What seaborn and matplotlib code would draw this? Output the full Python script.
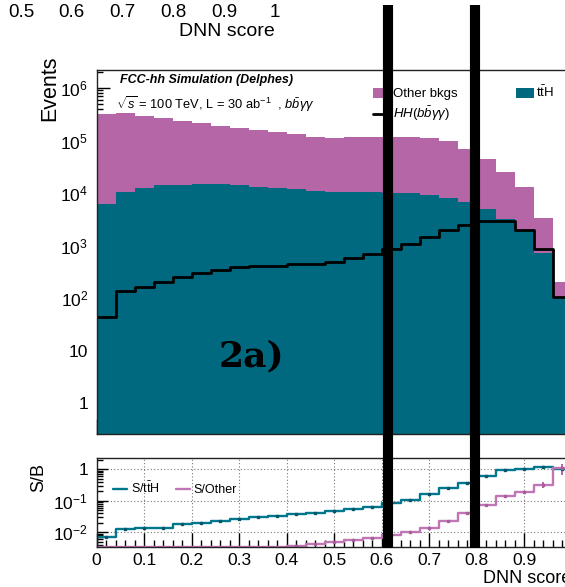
import numpy as np
import pandas as pd
import matplotlib
matplotlib.use("Agg")
import matplotlib.pyplot as plt
import seaborn as sns
from matplotlib.lines import Line2D
from matplotlib.patches import Patch
from matplotlib.ticker import LogLocator, MultipleLocator, FixedLocator, FuncFormatter, NullFormatter

# ---- data: DNN score histograms, 25 bins of width 0.04 ----
bin_edges = [round(0.04 * i, 2) for i in range(26)]

tth_events = [6200, 10700, 12400, 14400, 14000, 14800, 15200, 14400, 13300, 12500,
              11900, 11000, 10500, 10500, 10500, 10200, 10000, 9000, 8000, 6900,
              5000, 3200, 2000, 720, 107]
other_events = [314000, 329000, 278000, 256000, 226000, 200000, 175000, 159000, 142000, 131000,
                121000, 104000, 102000, 104500, 104500, 105000, 105000, 103000, 88000, 62000,
                40000, 21800, 10800, 2680, 100]
hh_events = [43, 138, 166, 200, 251, 296, 347, 389, 418, 418,
             444, 444, 485, 577, 680, 857, 1070, 1440, 2000, 2500,
             2960, 2960, 2000, 857, 107]

# relative uncertainties on the S/B ratios
rel_err_tth = [0.03] * 20 + [0.04, 0.05, 0.06, 0.08, 0.12]
rel_err_other = [0.03] * 18 + [0.04, 0.05, 0.06, 0.08, 0.12, 0.2, 0.4]

cut_marks = [0.613, 0.797]

TEAL = "#00687f"
MAGENTA = "#b466a6"
TEAL_LINE = "#00778c"
PINK_LINE = "#c075b5"

sns.set_theme(style="ticks")
plt.rcParams["font.family"] = ["Liberation Sans", "DejaVu Sans"]
plt.rcParams["mathtext.fontset"] = "custom"
plt.rcParams["mathtext.rm"] = "Liberation Sans"
plt.rcParams["mathtext.it"] = "Liberation Sans:italic"
plt.rcParams["mathtext.bf"] = "Liberation Sans:bold"
plt.rcParams["axes.linewidth"] = 1.0
plt.rcParams["axes.edgecolor"] = "#222222"
for key in ("text.color", "axes.labelcolor", "xtick.color", "ytick.color"):
    plt.rcParams[key] = "black"

edges = np.array(bin_edges)
centers = 0.5 * (edges[:-1] + edges[1:])
tth = np.array(tth_events, float)
other = np.array(other_events, float)
hh = np.array(hh_events, float)

W, H = 565, 587
fig = plt.figure(figsize=(W / 100, H / 100), dpi=100)


def fx(px):
    return px / W


def fy(py):
    return 1 - py / H


ax_left = 96.5
ax_right = 571.7
ax = fig.add_axes([fx(ax_left), fy(434), fx(ax_right - ax_left), fy(70) - fy(434)])
rax = fig.add_axes([fx(ax_left), fy(547), fx(ax_right - ax_left), fy(457.7) - fy(547)])

# ---- main panel: stacked backgrounds + signal line ----
stack_df = pd.DataFrame({
    "score": np.concatenate([centers, centers]),
    "events": np.concatenate([other, tth]),
    "process": ["Other bkgs"] * len(centers) + ["ttH"] * len(centers),
})
sns.histplot(data=stack_df, x="score", weights="events", hue="process",
             hue_order=["Other bkgs", "ttH"], palette={"Other bkgs": MAGENTA, "ttH": TEAL},
             multiple="stack", bins=bin_edges, element="step", fill=True,
             alpha=1.0, linewidth=0, legend=False, ax=ax)
hh_df = pd.DataFrame({"score": centers, "events": hh})
sns.histplot(data=hh_df, x="score", weights="events", bins=bin_edges, element="step", fill=False,
             color="black", linewidth=2.0, ax=ax)

ax.set_yscale("log")
ax.set_xlim(0, 1)
ax.set_ylim(0.26, 2.2e6)
ax.set_xlabel("")
ax.set_ylabel("")


def root_log_fmt(v, pos):
    e = int(round(np.log10(v)))
    if e == 0:
        return "1"
    if e == 1:
        return "10"
    return r"$\mathdefault{10^{%d}}$" % e


ax.yaxis.set_major_locator(LogLocator(base=10, numticks=20))
ax.yaxis.set_minor_locator(LogLocator(base=10, subs=np.arange(2, 10), numticks=20))
ax.yaxis.set_major_formatter(FuncFormatter(root_log_fmt))
ax.yaxis.set_minor_formatter(NullFormatter())
ax.xaxis.set_major_locator(MultipleLocator(0.1))
ax.xaxis.set_minor_locator(MultipleLocator(0.02))
ax.tick_params(axis="x", which="both", direction="in", labelbottom=False)
ax.tick_params(axis="x", which="major", length=11, width=1)
ax.tick_params(axis="x", which="minor", length=5.5, width=1)
ax.tick_params(axis="y", which="both", direction="in", labelsize=12.5, pad=6)
ax.tick_params(axis="y", which="major", length=9, width=1)
ax.tick_params(axis="y", which="minor", length=4.5, width=1)
for side in ("top", "right"):
    ax.spines[side].set_visible(True)

ax.text(-0.098, 1.04, "Events", transform=ax.transAxes, rotation=90,
        ha="center", va="top", fontsize=15.5)

ax.text(0.049, 0.9725, "FCC-hh Simulation (Delphes)", transform=ax.transAxes,
        fontsize=9, fontweight="bold", fontstyle="italic", va="center", ha="left")
ax.text(0.042, 0.905, r"$\sqrt{s}$ = 100 TeV, L = 30 ab$^{-1}$  , $b\bar{b}\gamma\gamma$",
        transform=ax.transAxes, fontsize=9.3, va="center", ha="left")

handles = [Patch(facecolor=MAGENTA, edgecolor="none"),
           Line2D([], [], color="black", linewidth=2.0),
           Patch(facecolor=TEAL, edgecolor="none")]
labels = ["Other bkgs", r"$HH(b\bar{b}\gamma\gamma)$", r"t$\bar{\mathrm{t}}$H"]
ax.legend(handles, labels, ncol=2, frameon=False, fontsize=9.5,
          loc="upper left", bbox_to_anchor=(0.57, 0.974),
          handlelength=1.4, handleheight=0.8, handletextpad=0.15,
          columnspacing=4.4, labelspacing=0.35, borderaxespad=0)

ax.text(0.327, 0.212, "2a)", transform=ax.transAxes, fontsize=26, color="black",
        fontweight="bold", family="DejaVu Serif", ha="center", va="center")

# ---- ratio panel: S/B ----
ratio_ymin, ratio_ymax = 0.0034, 2.3
r_tth = hh / tth
r_other = hh / other
# values under the range are drawn along the lower frame
r_tth_draw = np.maximum(r_tth, ratio_ymin)
r_other_draw = np.maximum(r_other, ratio_ymin)
sns.lineplot(x=edges, y=np.append(r_tth_draw, r_tth_draw[-1]), drawstyle="steps-post",
             color=TEAL_LINE, linewidth=1.7, estimator=None, sort=False, ax=rax,
             label=r"S/t$\bar{\mathrm{t}}$H")
sns.lineplot(x=edges, y=np.append(r_other_draw, r_other_draw[-1]), drawstyle="steps-post",
             color=PINK_LINE, linewidth=1.7, estimator=None, sort=False, ax=rax, label="S/Other")
shown_t = r_tth >= ratio_ymin
shown_o = r_other >= ratio_ymin
rax.errorbar(centers[shown_t], r_tth[shown_t], yerr=(r_tth * np.array(rel_err_tth))[shown_t],
             fmt="s", ms=2, color="#00566a", elinewidth=1.3, capsize=0)
rax.errorbar(centers[shown_o], r_other[shown_o], yerr=(r_other * np.array(rel_err_other))[shown_o],
             fmt="s", ms=2, color="#a85d9c", elinewidth=1.3, capsize=0)

rax.set_yscale("log")
rax.set_xlim(0, 1)
rax.set_ylim(ratio_ymin, ratio_ymax)
rax.yaxis.set_major_locator(FixedLocator([0.01, 0.1, 1]))
rax.yaxis.set_minor_locator(LogLocator(base=10, subs=np.arange(2, 10), numticks=20))
rax.yaxis.set_major_formatter(FuncFormatter(
    lambda v, p: "1" if abs(v - 1) < 1e-9 else r"$\mathdefault{10^{%d}}$" % round(np.log10(v))))
rax.yaxis.set_minor_formatter(NullFormatter())
rax.xaxis.set_major_locator(MultipleLocator(0.1))
rax.xaxis.set_minor_locator(MultipleLocator(0.02))
rax.xaxis.set_major_formatter(FuncFormatter(lambda v, p: "0" if abs(v) < 1e-9 else ("1" if abs(v - 1) < 1e-9 else "%.1f" % v)))
rax.tick_params(axis="both", which="both", direction="in", labelsize=12.5)
rax.tick_params(axis="x", which="major", length=10, width=1, pad=4)
rax.tick_params(axis="x", which="minor", length=5, width=1)
rax.tick_params(axis="y", which="major", length=8, width=1, pad=6)
rax.tick_params(axis="y", which="minor", length=4, width=1)
rax.grid(True, which="major", linestyle=(0, (1, 2)), color="#777777", linewidth=0.8)
rax.set_ylabel("")
rax.set_xlabel("DNN score", loc="right", fontsize=13, labelpad=2)
rax.text(-0.122, 0.78, "S/B", transform=rax.transAxes, rotation=90,
         ha="center", va="center", fontsize=13)
rax.legend(loc="upper left", bbox_to_anchor=(0.025, 0.80), ncol=2, frameon=False,
           fontsize=9, handlelength=1.1, handletextpad=0.3, columnspacing=1.3,
           borderaxespad=0)

# ---- axis of the panel above (only its labels fall inside the canvas) ----
tax = fig.add_axes([fx(21), 1.0, fx(275 - 21), 0.05])
tax.set_xlim(0.5, 1.0)
tax.xaxis.set_major_locator(FixedLocator([0.5, 0.6, 0.7, 0.8, 0.9, 1.0]))
tax.xaxis.set_major_formatter(FuncFormatter(lambda v, p: "1" if abs(v - 1) < 1e-9 else "%.1f" % v))
tax.tick_params(axis="x", length=0, labelsize=13.5, pad=3)
tax.set_yticks([])
for s in tax.spines.values():
    s.set_visible(False)
tax.patch.set_visible(False)
tax.set_xlabel("DNN score", loc="right", fontsize=14, labelpad=1)

# ---- thick vertical markers over both panels ----
for xm in cut_marks:
    xpix = ax_left + xm * (ax_right - ax_left)
    fig.add_artist(Line2D([fx(xpix), fx(xpix)], [fy(5), fy(548)], transform=fig.transFigure,
                          color="black", linewidth=7.3, solid_capstyle="butt"))

fig.savefig("out.png", dpi=100)
